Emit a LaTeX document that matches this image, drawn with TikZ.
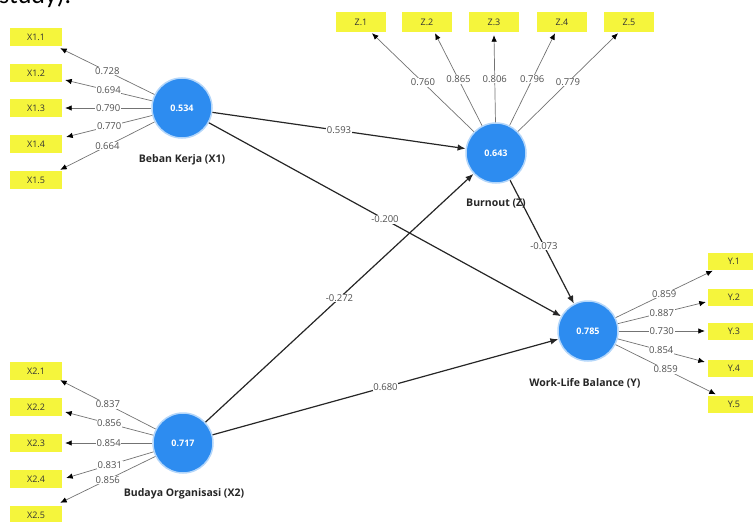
\documentclass[tikz,border=0pt]{standalone}
\usepackage{fontspec}
\setmainfont{Open Sans}
\newfontfamily\carl{Carlito}
\usetikzlibrary{arrows.meta}
\definecolor{lvblue}{RGB}{45,140,240}
\definecolor{indyel}{RGB}{245,245,60}
\definecolor{loadgray}{RGB}{80,80,80}
\begin{document}
\begin{tikzpicture}[x=1pt,y=-1pt,
  lv/.style={circle,fill=lvblue,draw=lvblue!35,line width=1.5pt,minimum size=60pt,inner sep=0pt,text=white,font=\bfseries\fontsize{9}{10}\selectfont},
  ind/.style={rectangle,fill=indyel,minimum width=52pt,minimum height=18pt,inner sep=0pt,text=black!80,font=\fontsize{9}{10}\selectfont},
  lvname/.style={text=black!85,font=\bfseries\fontsize{10.5}{12}\selectfont},
  outer/.style={draw=black!55,line width=0.7pt,-{Latex[length=6.5pt,width=5.5pt,color=black]}},
  inner/.style={draw=black!85,line width=1.2pt,-{Latex[length=8pt,width=6.5pt]}},
  lload/.style={fill=white,inner sep=0.6pt,text=loadgray,font=\fontsize{9.5}{10}\selectfont}
]
\useasboundingbox (0,0) rectangle (753,522);
\clip (0,0) rectangle (753,522);
\node[anchor=base west,inner sep=0pt,font=\carl\fontsize{26}{28}\selectfont] (top) at (-1,3) {study).};

% latent variables
\node[lv] (x1) at (182,108) {0.534};
\node[lv] (z)  at (496,153) {0.643};
\node[lv] (y)  at (588,331) {0.785};
\node[lv] (x2) at (183,443) {0.717};
\node[lvname] (nx1) at (182,160) {Beban Kerja (X1)};
\node[lvname] (nz)  at (496,204) {Burnout (Z)};
\node[lvname] (ny)  at (585,383) {Work-Life Balance (Y)};
\node[lvname] (nx2) at (184,494) {Budaya Organisasi (X2)};

% indicators X1
\node[ind] (x11) at (36,37)  {X1.1};
\node[ind] (x12) at (36,73)  {X1.2};
\node[ind] (x13) at (36,108) {X1.3};
\node[ind] (x14) at (36,144) {X1.4};
\node[ind] (x15) at (36,180) {X1.5};
% indicators X2
\node[ind] (x21) at (36,371) {X2.1};
\node[ind] (x22) at (36,407) {X2.2};
\node[ind] (x23) at (36,443) {X2.3};
\node[ind] (x24) at (36,479) {X2.4};
\node[ind] (x25) at (36,515) {X2.5};
% indicators Z
\node[ind,minimum width=50pt,minimum height=20pt] (z1) at (361,22) {Z.1};
\node[ind,minimum width=50pt,minimum height=20pt] (z2) at (427,22) {Z.2};
\node[ind,minimum width=50pt,minimum height=20pt] (z3) at (494,22) {Z.3};
\node[ind,minimum width=50pt,minimum height=20pt] (z4) at (562,22) {Z.4};
\node[ind,minimum width=50pt,minimum height=20pt] (z5) at (629,22) {Z.5};
% indicators Y
\node[ind,minimum height=17pt] (y1) at (734,261) {Y.1};
\node[ind,minimum height=17pt] (y2) at (734,297) {Y.2};
\node[ind,minimum height=17pt] (y3) at (734,331) {Y.3};
\node[ind,minimum height=17pt] (y4) at (734,368) {Y.4};
\node[ind,minimum height=17pt] (y5) at (734,404) {Y.5};

% outer loadings X1
\draw[outer] (x1) -- node[lload]{0.728} ([xshift=-2pt,yshift=-2pt]x11.south east);
\draw[outer] (x1) -- node[lload]{0.694} ([xshift=3pt,yshift=-7pt]x12.east);
\draw[outer] (x1) -- node[lload]{0.790} ([xshift=3pt]x13.east);
\draw[outer] (x1) -- node[lload]{0.770} ([xshift=4pt,yshift=7pt]x14.east);
\draw[outer] (x1) -- node[lload]{0.664} ([xshift=-2pt,yshift=1pt]x15.north east);
% outer loadings X2
\draw[outer] (x2) -- node[lload]{0.837} ([xshift=-2pt]x21.south east);
\draw[outer] (x2) -- node[lload]{0.856} ([xshift=3pt,yshift=-5pt]x22.east);
\draw[outer] (x2) -- node[lload]{0.854} ([xshift=3pt]x23.east);
\draw[outer] (x2) -- node[lload]{0.831} ([xshift=4pt,yshift=1pt]x24.east);
\draw[outer] (x2) -- node[lload]{0.856} ([xshift=-2pt,yshift=3pt]x25.north east);
% outer loadings Z
\draw[outer] (z) -- node[lload]{0.760} ([xshift=11pt,yshift=-1pt]z1.south);
\draw[outer] (z) -- node[lload]{0.865} ([xshift=8pt,yshift=-1pt]z2.south);
\draw[outer] (z) -- node[lload]{0.806} ([yshift=-3pt]z3.south);
\draw[outer] (z) -- node[lload]{0.796} ([xshift=-7pt,yshift=-1pt]z4.south);
\draw[outer] (z) -- node[lload]{0.779} ([xshift=-11pt,yshift=-1pt]z5.south);
% outer loadings Y
\draw[outer] (y) -- node[lload]{0.859} ([xshift=5pt,yshift=-1pt]y1.south west);
\draw[outer] (y) -- node[lload]{0.887} ([xshift=-2pt,yshift=-5pt]y2.west);
\draw[outer] (y) -- node[lload]{0.730} ([xshift=-3pt]y3.west);
\draw[outer] (y) -- node[lload]{0.854} ([xshift=-3pt,yshift=6pt]y4.west);
\draw[outer] (y) -- node[lload]{0.859} ([xshift=8pt,yshift=1pt]y5.north west);

% structural paths
\draw[inner] (x1) -- node[lload]{0.593} (z);
\draw[inner] (x1) -- node[lload]{-0.200} (y);
\draw[inner] (x2) -- node[lload]{-0.272} (z);
\draw[inner] (x2) -- node[lload]{0.680} (y);
\draw[inner] (z) -- node[lload,pos=0.53]{-0.073} (y);
\end{tikzpicture}
\end{document}
